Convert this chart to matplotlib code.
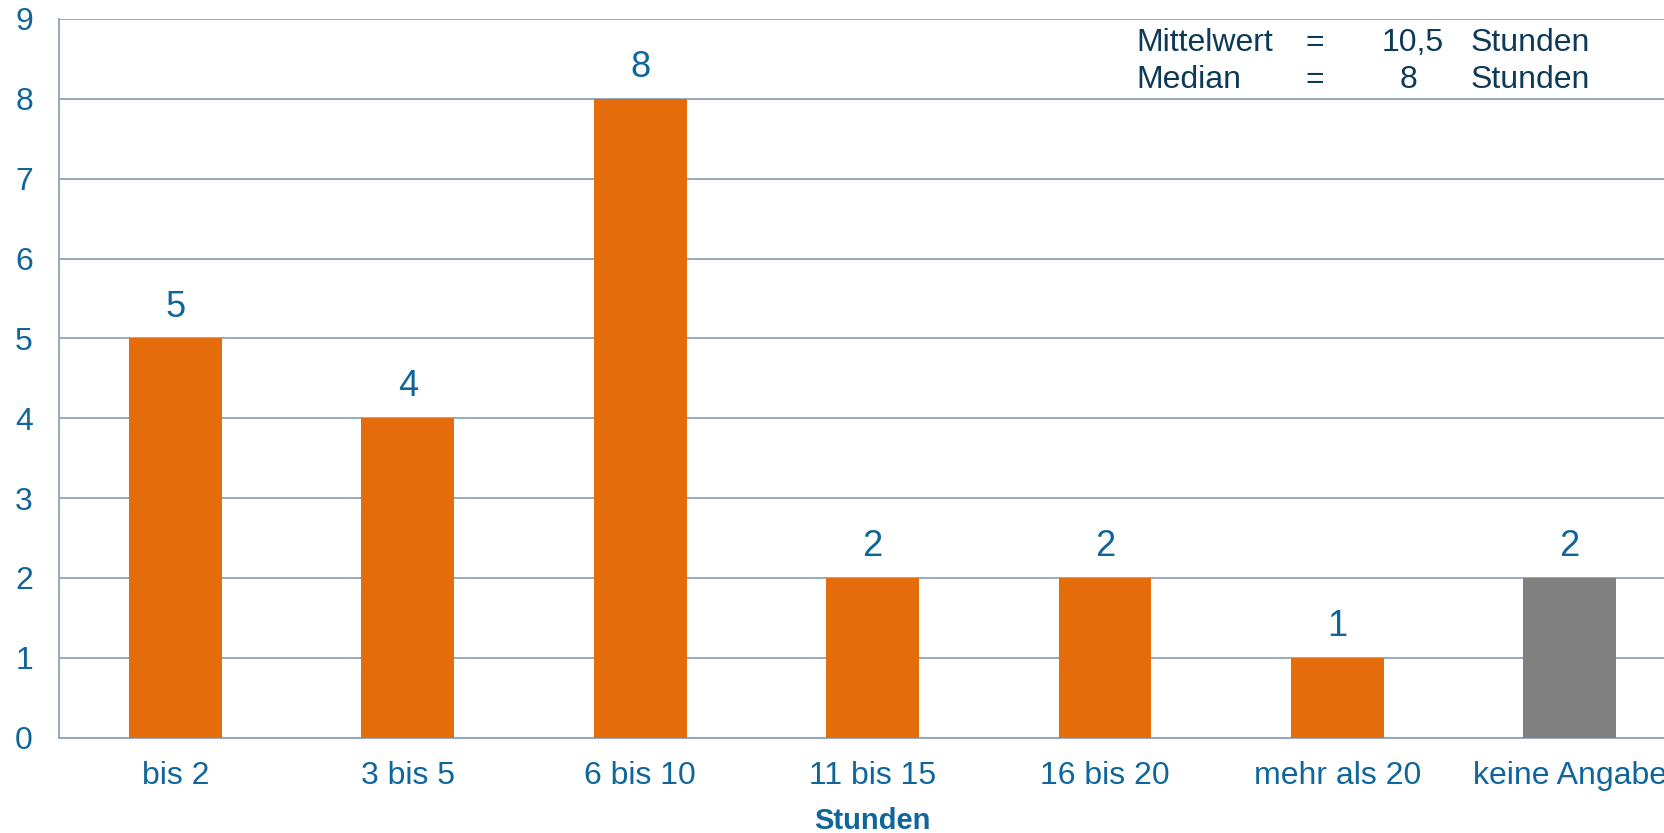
import matplotlib.pyplot as plt
from matplotlib.transforms import blended_transform_factory

# data
categories = ["bis 2", "3 bis 5", "6 bis 10", "11 bis 15", "16 bis 20", "mehr als 20", "keine Angabe"]
counts = [5, 4, 8, 2, 2, 1, 2]
bar_colors = ["#E46C0A"] * 6 + ["#808080"]
stats_labels = ["Mittelwert", "Median"]
stats_values = ["10,5", "8"]
stats_unit = "Stunden"

tick_color = "#10659A"
grid_color = "#8DA2BD"
note_color = "#0C3A57"

plt.rcParams["font.family"] = ["Liberation Sans", "DejaVu Sans"]

fig = plt.figure(figsize=(16.65, 8.33), dpi=100)
ax = fig.add_axes([59.3 / 1665, 95.3 / 833, 1 - 59.3 / 1665, (737.7 - 19) / 833])

x = list(range(len(categories)))
bars = ax.bar(x, counts, width=0.4, color=bar_colors, zorder=3)

for xi, v in zip(x, counts):
    ax.annotate(str(v), (xi, v), xytext=(0, 10), textcoords="offset points",
                ha="center", va="bottom", fontsize=26, color=tick_color)

ax.set_xlim(-0.5, 6.41)
ax.set_ylim(0, 9)
ax.set_yticks(range(10))
ax.set_xticks(x)
ax.set_xticklabels(categories)
ax.tick_params(axis="both", length=0, labelsize=23, labelcolor=tick_color)
ax.tick_params(axis="y", pad=19)
ax.tick_params(axis="x", pad=17)

ax.yaxis.grid(True, color=grid_color, lw=1.3, zorder=0)
ax.set_axisbelow(True)
for side in ["top", "right"]:
    ax.spines[side].set_visible(False)
for side in ["left", "bottom"]:
    ax.spines[side].set_color(grid_color)
    ax.spines[side].set_linewidth(1.3)

# x label centred on the full category range
tr = blended_transform_factory(ax.transData, ax.transAxes)
ax.text(3, -0.097, "Stunden", transform=tr, ha="center", va="top",
        fontsize=21, fontweight="bold", color=tick_color)

# Mittelwert / Median note
for i, (lab, val) in enumerate(zip(stats_labels, stats_values)):
    y = 51 + 37 * i
    fy = 1 - y / 833
    fig.text(1136 / 1665, fy, lab, ha="left", va="baseline", fontsize=23, color=note_color)
    fig.text(1315 / 1665, fy, "=", ha="center", va="baseline", fontsize=23, color=note_color)
    if i == 0:
        fig.text(1444 / 1665, fy, val, ha="right", va="baseline", fontsize=23, color=note_color)
    else:
        fig.text(1409 / 1665, fy, val, ha="center", va="baseline", fontsize=23, color=note_color)
    fig.text(1471 / 1665, fy, stats_unit, ha="left", va="baseline", fontsize=23, color=note_color)

fig.savefig("out.png", dpi=100)
